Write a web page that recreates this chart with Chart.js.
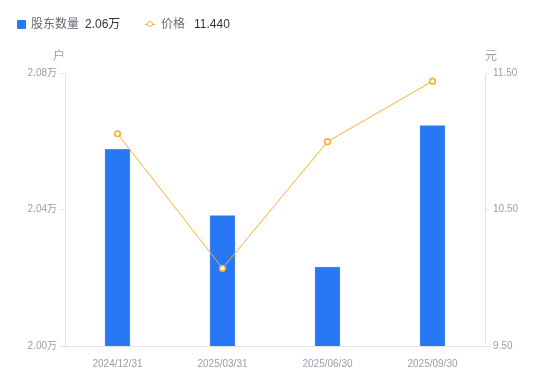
<!DOCTYPE html>
<html>
<head>
<meta charset="utf-8">
<script src="https://cdn.jsdelivr.net/npm/chart.js@4"></script>
<style>
  body { margin: 0; background: #fff; }
  #wrap { position: relative; width: 550px; height: 381px; }
  .legend { position: absolute; top: 16px; font: 12px "Liberation Sans", "Noto Sans CJK SC", sans-serif; line-height: 16px; white-space: nowrap; }
  .legend .name { color: #666a75; }
  .legend .val { color: #333; margin-left: 6px; }
  .sq { display: inline-block; width: 9px; height: 9px; background: #2878f5; border-radius: 1px; vertical-align: -1px; margin-right: 5px; }
  .ln { display: inline-block; position: relative; width: 10px; height: 9px; margin-right: 6px; vertical-align: -1px; }
  .ln::before { content: ""; position: absolute; left: 0; right: 0; top: 4px; height: 1px; background: #f7b036; }
  .ln::after { content: ""; position: absolute; left: 2px; top: 1px; width: 4px; height: 4px; border: 1.5px solid #f7b036; border-radius: 50%; background: #fff; }
</style>
</head>
<body>
<div id="wrap">
  <canvas id="c" width="550" height="381"></canvas>
  <div class="legend" style="left:17px"><span class="sq"></span><span class="name">股东数量</span><span class="val">2.06万</span></div>
  <div class="legend" style="left:145px"><span class="ln"></span><span class="name">价格</span><span class="val" style="margin-left:9px">11.440</span></div>
</div>
<script>
const categories = ["2024/12/31", "2025/03/31", "2025/06/30", "2025/09/30"];
const holders = [2.0576, 2.0382, 2.0231, 2.0646];   // 万户
const prices = [11.055, 10.069, 10.997, 11.44];     // 元
const leftTicks = [2.00, 2.04, 2.08];
const rightTicks = [9.50, 10.50, 11.50];

const FONT = '"Liberation Sans", "Noto Sans CJK SC", sans-serif';
const GREY = "#9b9dab";
const AXIS = "#e3e3e8";

const unitLabels = {
    id: "unitLabels",
    afterDraw(chart) {
        const ctx = chart.ctx;
        const area = chart.chartArea;
        ctx.save();
        ctx.font = "12px " + FONT;
        ctx.fillStyle = GREY;
        ctx.textBaseline = "middle";
        ctx.textAlign = "center";
        ctx.fillText("户", area.left - 6, area.top - 16);
        ctx.fillText("元", area.right + 6, area.top - 16);
        ctx.restore();
    }
};

new Chart(document.getElementById("c"), {
    data: {
        labels: categories,
        datasets: [
            {
                type: "line",
                label: "价格",
                data: prices,
                yAxisID: "yR",
                borderColor: "#f7b036",
                borderWidth: 1,
                pointRadius: 2.8,
                pointBorderWidth: 1.6,
                pointBackgroundColor: "#fff",
                pointBorderColor: "#f7b036",
                tension: 0,
                order: 0
            },
            {
                type: "bar",
                label: "股东数量",
                data: holders,
                yAxisID: "yL",
                backgroundColor: "#2878f5",
                borderColor: "#6ea5fa",
                borderWidth: 0.5,
                barThickness: 25,
                order: 1
            }
        ]
    },
    options: {
        responsive: false,
        animation: false,
        layout: {padding: {top: 73, left: 0, right: 0, bottom: 0}},
        plugins: {legend: {display: false}, tooltip: {enabled: false}},
        scales: {
            x: {
                grid: {display: false},
                border: {color: AXIS},
                ticks: {color: GREY, font: {size: 10, family: FONT}, padding: 4, maxRotation: 0},
                afterFit: (s) => { s.height = 35; }
            },
            yL: {
                position: "left",
                min: 2.00,
                max: 2.08,
                afterBuildTicks: (s) => { s.ticks = leftTicks.map((v) => ({value: v})); },
                grid: {drawOnChartArea: false, color: AXIS, tickLength: 5},
                border: {color: AXIS},
                ticks: {color: GREY, font: {size: 10, family: FONT}, padding: 3,
                    callback: (v) => v.toFixed(2) + "万"},
                afterFit: (s) => { s.width = 65; }
            },
            yR: {
                position: "right",
                min: 9.5,
                max: 11.5,
                afterBuildTicks: (s) => { s.ticks = rightTicks.map((v) => ({value: v})); },
                grid: {drawOnChartArea: false, color: AXIS, tickLength: 5},
                border: {color: AXIS},
                ticks: {color: GREY, font: {size: 10, family: FONT}, padding: 3,
                    callback: (v) => v.toFixed(2)},
                afterFit: (s) => { s.width = 65; }
            }
        }
    },
    plugins: [unitLabels]
});
</script>
</body>
</html>
